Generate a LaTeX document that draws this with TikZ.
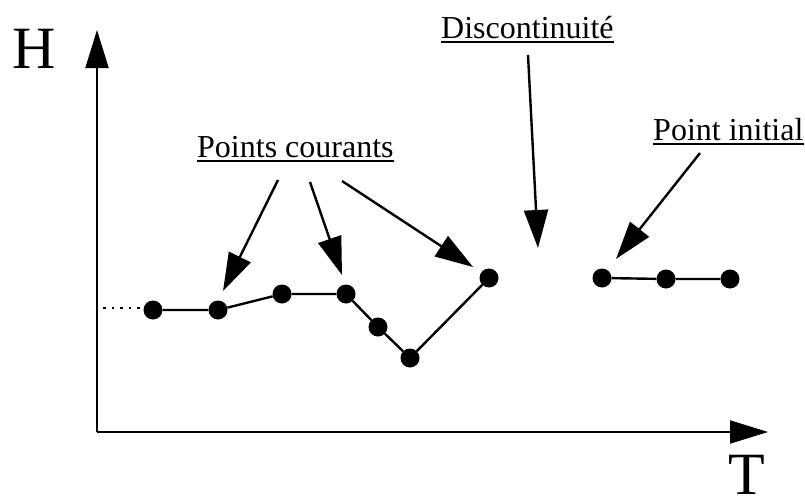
\documentclass[tikz,border=0pt]{standalone}
\usepackage{fontspec}
\setmainfont{Liberation Serif}
\usetikzlibrary{arrows.meta}
\begin{document}
\begin{tikzpicture}[x=1pt,y=-1pt,
  dot/.style={circle,fill=black,inner sep=0pt,minimum size=19pt},
  seg/.style={line width=2.4pt},
  axis/.style={line width=2pt,-{Triangle[length=38pt,width=23pt]}},
  callout/.style={line width=2.4pt,-{Triangle[length=38pt,width=24pt]}},
  lbl/.style={inner sep=0pt,anchor=base west,font=\fontsize{32}{38}\selectfont},
  big/.style={inner sep=0pt,font=\fontsize{60}{68}\selectfont}]
\useasboundingbox (0,0) rectangle (805,503);
% axes
\coordinate (O) at (97,432);
\coordinate (Ytip) at (97,30);
\coordinate (Xtip) at (768,432);
\draw[axis] (O) -- (Ytip);
\draw[axis] (O) -- (Xtip);
\node[big,anchor=base] (H) at (34,68) {H};
\node[big,anchor=base] (T) at (747,494) {T};
% points
\node[dot] (p1) at (153,310) {};
\node[dot] (p2) at (218,310) {};
\node[dot] (p3) at (282,294) {};
\node[dot] (p4) at (346,294) {};
\node[dot] (p5) at (378,327) {};
\node[dot] (p6) at (410,358) {};
\node[dot] (p7) at (489,278) {};
\node[dot] (q1) at (602,278) {};
\node[dot] (q2) at (666,279) {};
\node[dot] (q3) at (730,279) {};
\draw[seg] (p1) -- (p2) -- (p3) -- (p4) -- (p5) -- (p6) -- (p7);
\draw[seg] (q1) -- (q2) -- (q3);
\coordinate (d0) at (103,308);
\coordinate (d1) at (144,308);
\draw[line width=1.2pt,dash pattern=on 2.5pt off 6pt] (d0) -- (d1);
% labels
\node[lbl] (pc) at (197,157) {Points courants};
\node[lbl] (dc) at (441,38) {Discontinuité};
\node[lbl] (pi) at (653,140) {Point initial};
\foreach \n in {pc,dc,pi}
  \draw[line width=1.4pt] ([yshift=-4pt]\n.base west) -- ([yshift=-4pt]\n.base east);
% callouts
\coordinate (a1s) at (278,180); \coordinate (a1t) at (223,291);
\coordinate (a2s) at (310,182); \coordinate (a2t) at (342,275);
\coordinate (a3s) at (342,181); \coordinate (a3t) at (473,267);
\coordinate (a4s) at (528,55);  \coordinate (a4t) at (538,248);
\coordinate (a5s) at (700,153); \coordinate (a5t) at (616,259);
\foreach \i in {1,...,5}
  \draw[callout] (a\i s) -- (a\i t);
\end{tikzpicture}
\end{document}
